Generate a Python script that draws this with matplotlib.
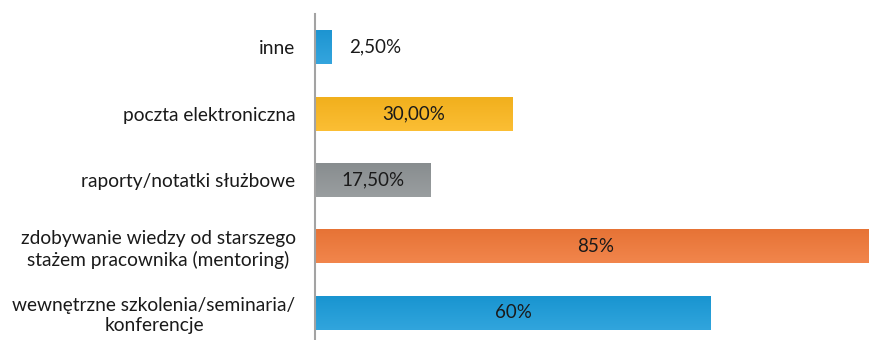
import matplotlib
matplotlib.use("Agg")
import matplotlib.pyplot as plt
import numpy as np

plt.rcParams['font.family'] = ['Lato', 'DejaVu Sans']

categories = [
    "wewnętrzne szkolenia/seminaria/\nkonferencje",
    "zdobywanie wiedzy od starszego\nstażem pracownika (mentoring)",
    "raporty/notatki służbowe",
    "poczta elektroniczna",
    "inne",
]
values = [60, 85, 17.5, 30, 2.5]
value_labels = ["60%", "85%", "17,50%", "30,00%", "2,50%"]
colors = ["#1A9BD9", "#F07838", "#8E9395", "#FBB71E", "#1E9BDA"]

W, H = 869, 340
fig = plt.figure(figsize=(W / 100, H / 100), dpi=100)
ax = fig.add_axes([315 / W, (H - 346) / H, (W - 315) / W, 332 / H])

y = np.arange(len(categories))
bars = ax.barh(y, values, height=0.51, color=colors, edgecolor="none")

# soft vertical shading on each bar
for bar, c in zip(bars, colors):
    rgb = np.array(matplotlib.colors.to_rgb(c))
    grad = np.linspace(0, 1, 64)[:, None]
    light = np.clip(rgb + 0.10 * (1 - rgb), 0, 1)
    dark = rgb * 0.96
    img = light[None, None, :] * (1 - grad[..., None]) + dark[None, None, :] * grad[..., None]
    x0, y0 = bar.get_x(), bar.get_y()
    w, h = bar.get_width(), bar.get_height()
    im = ax.imshow(img, extent=[x0, x0 + w, y0 + h, y0], aspect="auto",
                   zorder=bar.get_zorder() + 0.1, interpolation="bilinear")
    im.set_clip_path(bar)

ax.set_xlim(0, (W - 315) / 6.6)
ax.set_ylim(-0.5, len(categories) - 0.5)

for i, (v, lab) in enumerate(zip(values, value_labels)):
    if v < 5:
        ax.annotate(lab, (v, i), xytext=(13, 0), textcoords="offset points",
                    ha="left", va="center", fontsize=13.5, color="#1a1a1a", zorder=5)
    else:
        ax.text(v / 2, i, lab, ha="center", va="center", fontsize=13.5,
                color="#1a1a1a", zorder=5)

ax.set_yticks(y)
ax.set_yticklabels(categories, fontsize=13.8, color="#1a1a1a",
                   multialignment="center", linespacing=1.22)
ax.tick_params(axis="y", length=0, pad=14)
ax.set_xticks([])

for s in ["top", "right", "bottom"]:
    ax.spines[s].set_visible(False)
ax.spines["left"].set_color("#A3A3A3")
ax.spines["left"].set_linewidth(1.5)

fig.savefig("out.png", dpi=100)
